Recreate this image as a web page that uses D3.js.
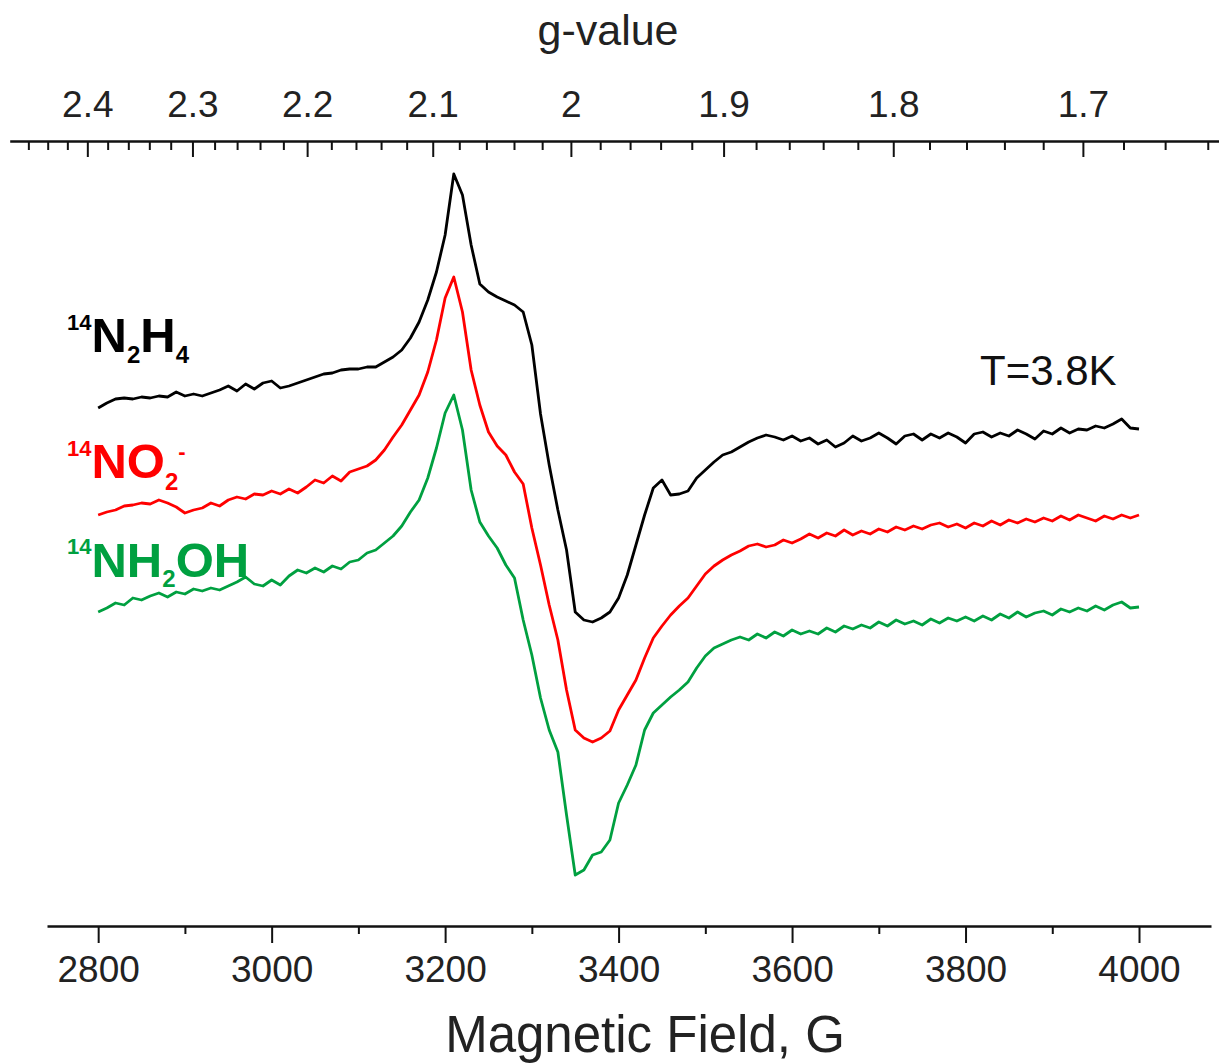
<!DOCTYPE html>
<html>
<head>
<meta charset="utf-8">
<script src="https://cdn.jsdelivr.net/npm/d3@7"></script>
<style>
	body { margin: 0; background: #fff; }
	text { font-family: "Liberation Sans", Arial, sans-serif; }
</style>
</head>
<body>
<div id="chart"></div>
<script>
// magnetic field sampling, G
const field = [
	2800,2810,2820,2830,2840,2850,2860,2870,2880,2890,2900,2910,2920,2930,2940,2950,2960,2970,2980,2990,
	3000,3010,3020,3030,3040,3050,3060,3070,3080,3090,3100,3110,3120,3130,3140,3150,3160,3170,3180,3190,
	3200,3210,3220,3230,3240,3250,3260,3270,3280,3290,3300,3310,3320,3330,3340,3350,3360,3370,3380,3390,
	3400,3410,3420,3430,3440,3450,3460,3470,3480,3490,3500,3510,3520,3530,3540,3550,3560,3570,3580,3590,
	3600,3610,3620,3630,3640,3650,3660,3670,3680,3690,3700,3710,3720,3730,3740,3750,3760,3770,3780,3790,
	3800,3810,3820,3830,3840,3850,3860,3870,3880,3890,3900,3910,3920,3930,3940,3950,3960,3970,3980,3990,
	4000
];

// EPR signal (a.u., stacked with offsets)
const n2h4 = [
	518,523,527,528,527,529,528,530,529,534,530,532,530,533,536,540,535,542,537,543,
	545,538,540,543,546,549,552,553,556,557,557,559,559,564,569,576,588,604,626,654,
	691,752,731,681,642,634,629,625,621,614,581,512,461,416,376,314,306,304,308,314,
	328,351,381,411,438,446,431,432,435,448,456,464,471,474,479,484,488,491,489,486,
	490,485,488,482,486,479,483,490,485,488,493,488,482,490,492,486,492,488,493,489,
	483,492,494,489,493,490,496,492,487,495,492,498,493,497,496,500,498,502,507,498,
	497
];
const no2 = [
	411,414,416,420,421,423,422,426,423,419,413,416,418,423,420,426,429,427,432,431,
	435,432,437,433,439,446,443,450,445,454,457,460,466,476,489,501,516,531,554,586,
	628,649,614,556,521,494,480,471,454,442,398,361,321,286,236,196,188,184,188,195,
	216,231,246,268,288,300,311,320,328,340,352,360,366,371,375,380,382,379,381,386,
	383,387,392,388,393,390,396,391,395,392,397,394,399,396,400,397,401,403,399,402,
	398,403,400,405,401,406,403,407,404,408,405,410,406,411,408,405,410,407,411,408,
	411
];
const nh2oh = [
	314,318,323,321,328,326,330,333,329,334,332,337,335,338,336,340,344,349,342,340,
	346,341,350,356,353,358,354,360,357,364,366,373,376,383,390,400,414,426,448,478,
	513,531,496,436,404,390,378,361,348,306,271,228,196,174,111,51,56,71,74,86,
	123,141,161,196,213,221,229,236,244,258,270,278,282,286,289,286,292,288,294,290,
	296,292,295,292,298,294,300,297,301,298,304,300,306,302,305,301,307,303,308,305,
	309,305,310,306,312,308,314,309,313,315,311,317,314,318,315,320,316,321,324,318,
	319
];

const seriesNames = ["N2H4", "NO2-", "NH2OH"];
const seriesColors = ["#000000", "#ff0000", "#00a040"];

// axis ticks
const fieldMajor = [2800, 3000, 3200, 3400, 3600, 3800, 4000];
const fieldMinor = [2900, 3100, 3300, 3500, 3700, 3900];
const gMajor = [2.4, 2.3, 2.2, 2.1, 2.0, 1.9, 1.8, 1.7];
const gMinor = [2.46,2.44,2.42,2.38,2.36,2.34,2.32,2.28,2.26,2.24,2.22,2.18,2.16,2.14,2.12,
	2.08,2.06,2.04,2.02,1.98,1.96,1.94,1.92,1.88,1.86,1.84,1.82,1.78,1.76,1.74,1.72,1.68,1.66,1.64];
const gB = 6690; // g * B in G (X-band, ~9.37 GHz)

let width = 1219;
let height = 1063;

let x = d3.scaleLinear()
	.domain([2741, 4083])
	.range([47, 1211]);

let y = d3.scaleLinear()
	.domain([0, 780])
	.range([926, 146]);

// top axis runs a bit wider than the bottom one
let xTop = x.copy().domain([2698, 4097]).range([x(2698), x(4097)]);

const svg = d3.select("#chart").append("svg")
	.attr("width", width)
	.attr("height", height);

const gFormat = b => {
	const g = Math.round(gB / b * 100) / 100;
	return String(g);
};

// bottom axis
const bottomAxis = svg.append("g")
	.attr("transform", `translate(0,${y(0)})`);

bottomAxis.call(d3.axisBottom(x)
	.tickValues(fieldMinor)
	.tickSizeInner(8)
	.tickSizeOuter(0)
	.tickFormat(""));

bottomAxis.append("g").call(d3.axisBottom(x)
	.tickValues(fieldMajor)
	.tickSizeInner(17)
	.tickSizeOuter(0)
	.tickPadding(13)
	.tickFormat(d3.format("d")))
	.call(g => g.select(".domain").remove());

// top axis (g-value)
const topAxis = svg.append("g")
	.attr("transform", "translate(0,141)");

topAxis.call(d3.axisTop(xTop)
	.tickValues(gMinor.map(g => gB / g))
	.tickSizeInner(-9)
	.tickSizeOuter(0)
	.tickFormat(""));

topAxis.append("g").call(d3.axisTop(xTop)
	.tickValues(gMajor.map(g => gB / g))
	.tickSizeInner(-16)
	.tickSizeOuter(0)
	.tickPadding(24)
	.tickFormat(gFormat))
	.call(g => g.select(".domain").remove());

svg.selectAll(".domain")
	.attr("stroke", "#111")
	.attr("stroke-width", 2.6);
svg.selectAll(".tick line")
	.attr("stroke", "#111")
	.attr("stroke-width", 2);
svg.selectAll(".tick text")
	.attr("font-family", "'Liberation Sans', Arial, sans-serif")
	.attr("font-size", 37)
	.attr("fill", "#222");

// spectra
const line = d3.line()
	.x(d => x(d[0]))
	.y(d => y(d[1]));

[n2h4, no2, nh2oh].forEach((vals, i) => {
	svg.append("path")
		.datum(d3.zip(field, vals))
		.attr("fill", "none")
		.attr("stroke", seriesColors[i])
		.attr("stroke-width", 2.8)
		.attr("stroke-linejoin", "round")
		.attr("d", line);
});

// species labels: [text, baseline shift, font size]
const labelParts = [
	[["14", -22, 22], ["N", 0, 49], ["2", 11, 24], ["H", 0, 49], ["4", 11, 24]],
	[["14", -22, 22], ["NO", 0, 49], ["2", 12, 24], ["-", -19, 22]],
	[["14", -23, 22], ["NH", 0, 49], ["2", 10, 24], ["OH", 0, 49]]
];
const labelY = [352, 478, 577];

labelParts.forEach((parts, i) => {
	const t = svg.append("text")
		.attr("x", 67)
		.attr("y", labelY[i])
		.attr("fill", seriesColors[i])
		.attr("font-weight", "bold");
	let shift = 0;
	parts.forEach(p => {
		t.append("tspan")
			.attr("dy", p[1] - shift)
			.attr("font-size", p[2])
			.text(p[0]);
		shift = p[1];
	});
});

svg.append("text")
	.attr("x", 980)
	.attr("y", 385)
	.attr("font-size", 42)
	.attr("fill", "#111")
	.text("T=3.8K");

// axis titles
svg.append("text")
	.attr("x", 608)
	.attr("y", 45)
	.attr("text-anchor", "middle")
	.attr("font-size", 43)
	.attr("fill", "#222")
	.text("g-value");

svg.append("text")
	.attr("x", 645)
	.attr("y", 1052)
	.attr("text-anchor", "middle")
	.attr("font-size", 51)
	.attr("fill", "#222")
	.text("Magnetic Field, G");
</script>
</body>
</html>
